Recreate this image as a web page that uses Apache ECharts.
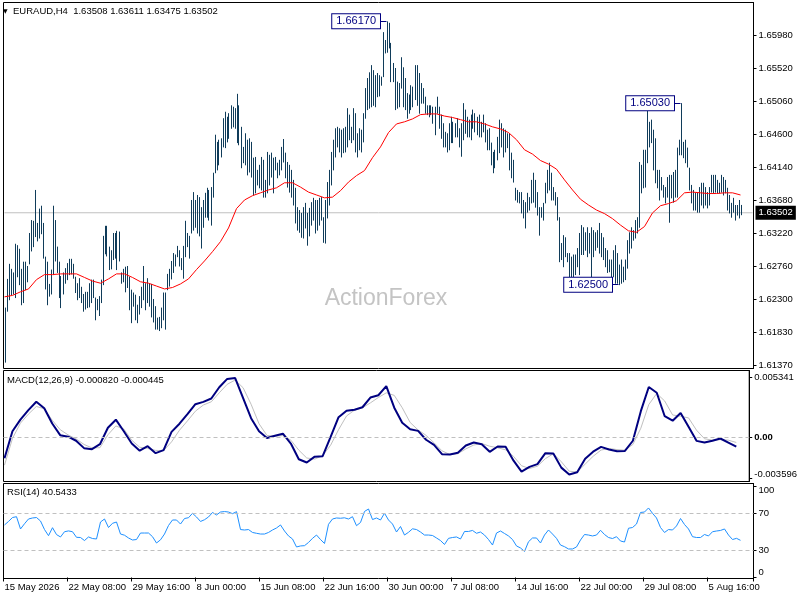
<!DOCTYPE html>
<html>
<head>
<meta charset="utf-8">
<title>EURAUD H4</title>
<script src="https://cdn.jsdelivr.net/npm/echarts@6/dist/echarts.min.js"></script>
<style>
html,body{margin:0;padding:0;background:#fff;}
#chart{width:800px;height:600px;}
</style>
</head>
<body>
<div id="chart"></div>
<script>
//K线最高价（每根H4）
var highs = [
1.6218,1.6258,1.6279,1.6272,1.6267,1.6307,1.6305,1.6300,1.6272,1.6282,
1.6282,1.6276,1.6322,1.6340,1.6339,1.6382,1.6336,1.6356,1.6360,1.6336,
1.6289,1.6282,1.6251,1.6271,1.6360,1.6340,1.6303,1.6282,1.6262,1.6267,
1.6273,1.6280,1.6286,1.6286,1.6279,1.6261,1.6252,1.6259,1.6247,1.6237,
1.6240,1.6240,1.6252,1.6257,1.6257,1.6232,1.6230,1.6234,1.6257,1.6318,
1.6332,1.6332,1.6303,1.6298,1.6322,1.6322,1.6325,1.6324,1.6267,1.6272,
1.6275,1.6276,1.6261,1.6243,1.6239,1.6236,1.6222,1.6234,1.6247,1.6276,
1.6252,1.6259,1.6252,1.6251,1.6230,1.6220,1.6204,1.6205,1.6218,1.6239,
1.6239,1.6265,1.6272,1.6283,1.6294,1.6292,1.6304,1.6298,1.6287,1.6304,
1.6339,1.6322,1.6318,
1.6368,1.6379,1.6368,1.6375,1.6372,1.6358,1.6368,1.6378,1.6385,1.6382,
1.6386,1.6406,1.6459,1.6449,1.6452,1.6454,1.6482,1.6491,1.6484,1.6489,
1.6500,1.6498,1.6496,1.6516,1.6500,1.6470,1.6442,1.6461,1.6452,1.6454,
1.6449,1.6427,1.6428,1.6410,1.6417,1.6428,1.6424,1.6396,1.6435,1.6431,
1.6434,1.6427,1.6428,1.6420,1.6424,1.6442,1.6453,1.6434,1.6421,1.6417,
1.6410,1.6396,1.6385,1.6358,1.6354,1.6350,1.6358,1.6364,1.6350,1.6357,
1.6365,1.6371,1.6368,1.6368,1.6371,1.6372,1.6344,1.6368,1.6393,1.6410,
1.6435,1.6452,1.6468,1.6470,1.6468,1.6466,1.6468,1.6470,1.6496,1.6487,
1.6470,1.6496,1.6489,1.6461,1.6468,1.6466,1.6489,1.6524,1.6538,1.6546,
1.6556,1.6549,1.6542,
1.6545,1.6542,1.6540,1.6602,1.6591,1.6617,1.6615,1.6587,1.6559,1.6552,
1.6533,1.6531,1.6567,1.6553,1.6538,1.6517,1.6515,1.6528,1.6526,1.6556,
1.6556,1.6545,1.6531,1.6524,1.6512,1.6500,1.6500,1.6500,1.6498,1.6498,
1.6512,1.6498,1.6487,1.6475,1.6463,1.6461,1.6475,1.6484,1.6477,1.6475,
1.6482,1.6468,1.6475,1.6503,1.6494,1.6484,1.6480,1.6487,1.6494,1.6489,
1.6484,1.6487,1.6477,1.6487,1.6475,1.6466,1.6468,1.6448,1.6435,1.6438,
1.6456,1.6480,1.6475,1.6468,1.6466,1.6461,1.6461,1.6434,1.6424,1.6385,
1.6382,1.6379,1.6379,1.6368,1.6365,1.6378,1.6372,1.6396,1.6406,1.6396,
1.6379,1.6358,1.6358,1.6364,1.6392,1.6410,1.6420,1.6406,1.6386,1.6379,
1.6372,1.6344,1.6308,
1.6319,1.6316,1.6294,1.6294,1.6289,1.6292,1.6292,1.6301,1.6322,1.6333,
1.6330,1.6323,1.6330,1.6322,1.6330,1.6326,1.6323,1.6326,1.6336,1.6322,
1.6316,1.6301,1.6298,1.6285,1.6285,1.6298,1.6305,1.6294,1.6278,1.6285,
1.6275,1.6285,1.6312,1.6323,1.6330,1.6326,1.6340,1.6344,1.6421,1.6417,
1.6438,1.6438,1.6494,1.6477,1.6480,1.6466,1.6454,1.6410,1.6410,1.6400,
1.6389,1.6386,1.6400,1.6403,1.6403,1.6407,1.6410,1.6441,1.6452,1.6503,
1.6449,1.6452,1.6441,1.6413,1.6389,1.6382,1.6378,1.6378,1.6386,1.6392,
1.6392,1.6386,1.6379,1.6386,1.6403,1.6403,1.6403,1.6396,1.6392,1.6403,
1.6400,1.6396,1.6385,1.6375,1.6364,1.6371,1.6361,1.6361,1.6368,1.63611
];
//K线最低价
var lows = [
1.6142,1.6213,1.6229,1.6236,1.6237,1.6232,1.6261,1.6250,1.6222,1.6225,
1.6243,1.6254,1.6279,1.6297,1.6303,1.6317,1.6311,1.6315,1.6321,1.6287,
1.6244,1.6222,1.6234,1.6237,1.6264,1.6283,1.6267,1.6232,1.6218,1.6237,
1.6252,1.6257,1.6264,1.6265,1.6259,1.6239,1.6229,1.6232,1.6225,1.6213,
1.6216,1.6218,1.6219,1.6225,1.6232,1.6201,1.6215,1.6207,1.6225,1.6250,
1.6293,1.6290,1.6271,1.6272,1.6285,1.6287,1.6271,1.6283,1.6252,1.6254,
1.6240,1.6246,1.6215,1.6197,1.6220,1.6201,1.6197,1.6209,1.6218,1.6229,
1.6215,1.6225,1.6220,1.6205,1.6198,1.6188,1.6188,1.6186,1.6190,1.6201,
1.6188,1.6243,1.6248,1.6258,1.6267,1.6276,1.6289,1.6276,1.6271,1.6259,
1.6289,1.6303,1.6287,
1.6322,1.6326,1.6330,1.6322,1.6318,1.6301,1.6330,1.6344,1.6344,1.6340,
1.6333,1.6372,1.6406,1.6410,1.6417,1.6428,1.6442,1.6441,1.6449,1.6454,
1.6468,1.6470,1.6468,1.6448,1.6445,1.6413,1.6420,1.6417,1.6403,1.6407,
1.6400,1.6375,1.6378,1.6389,1.6385,1.6382,1.6372,1.6372,1.6378,1.6389,
1.6400,1.6378,1.6410,1.6399,1.6403,1.6410,1.6421,1.6399,1.6386,1.6379,
1.6372,1.6361,1.6336,1.6326,1.6323,1.6316,1.6315,1.6329,1.6305,1.6318,
1.6333,1.6340,1.6322,1.6326,1.6333,1.6340,1.6309,1.6308,1.6343,1.6361,
1.6389,1.6410,1.6428,1.6442,1.6435,1.6428,1.6434,1.6435,1.6442,1.6452,
1.6448,1.6452,1.6435,1.6428,1.6438,1.6435,1.6449,1.6482,1.6494,1.6496,
1.6498,1.6500,1.6498,
1.6512,1.6513,1.6528,1.6540,1.6573,1.6574,1.6580,1.6533,1.6533,1.6494,
1.6496,1.6498,1.6524,1.6498,1.6494,1.6482,1.6489,1.6494,1.6498,1.6508,
1.6500,1.6489,1.6503,1.6503,1.6489,1.6487,1.6484,1.6487,1.6475,1.6459,
1.6489,1.6468,1.6454,1.6442,1.6442,1.6435,1.6438,1.6448,1.6448,1.6456,
1.6456,1.6442,1.6429,1.6452,1.6461,1.6456,1.6456,1.6452,1.6468,1.6463,
1.6459,1.6456,1.6456,1.6463,1.6449,1.6438,1.6438,1.6417,1.6406,1.6413,
1.6424,1.6434,1.6442,1.6428,1.6435,1.6441,1.6410,1.6399,1.6393,1.6368,
1.6365,1.6364,1.6350,1.6343,1.6329,1.6351,1.6354,1.6364,1.6365,1.6358,
1.6347,1.6319,1.6344,1.6340,1.6364,1.6378,1.6382,1.6368,1.6368,1.6361,
1.6340,1.6282,1.6285,
1.6275,1.6289,1.6282,1.6257,1.6261,1.6261,1.6264,1.6275,1.6264,1.6292,
1.6292,1.6298,1.6289,1.6294,1.6260,1.6289,1.6298,1.6302,1.6294,1.6289,
1.6285,1.6275,1.6267,1.6268,1.6252,1.6261,1.6252,1.6252,1.6250,1.6252,
1.6254,1.6257,1.6273,1.6294,1.6301,1.6312,1.6315,1.6322,1.6330,1.6378,
1.6385,1.6386,1.6420,1.6442,1.6448,1.6410,1.6392,1.6385,1.6368,1.6382,
1.6372,1.6364,1.6372,1.6337,1.6371,1.6365,1.6372,1.6372,1.6431,1.6431,
1.6427,1.6420,1.6414,1.6382,1.6364,1.6354,1.6354,1.6351,1.6351,1.6361,
1.6357,1.6361,1.6357,1.6361,1.6379,1.6378,1.6379,1.6378,1.6378,1.6379,
1.6375,1.6378,1.6354,1.6350,1.6344,1.6351,1.6340,1.6347,1.6343,1.63475
];
//均线（每4根取一个点）
var maValues = [
1.6233,1.6235,1.6240,1.6244,1.6257,1.6264,1.6264,1.6265,1.6265,1.6265,
1.6260,1.6255,1.6252,1.6258,1.6265,1.6265,1.6260,1.6254,1.6252,1.6248,
1.6244,1.6246,1.6251,1.6258,1.6271,1.6283,1.6296,1.6310,1.6329,1.6356,
1.6368,1.6374,1.6378,1.6382,1.6385,1.6392,1.6392,1.6386,1.6379,1.6375,
1.6371,1.6372,1.6381,1.6393,1.6402,1.6409,1.6427,1.6442,1.6462,1.6474,
1.6477,1.6481,1.6487,1.6488,1.6488,1.6485,1.6483,1.6480,1.6477,1.6477,
1.6474,1.6470,1.6467,1.6462,1.6452,1.6438,1.6432,1.6423,1.6418,1.6411,
1.6396,1.6382,1.6369,1.6361,1.6354,1.6349,1.6342,1.6333,1.6325,1.6323,
1.6331,1.6350,1.6360,1.6363,1.6367,1.6378,1.6379,1.6378,1.6377,1.6377,
1.6378,1.6378,1.6375
];
//MACD主线（每4根）
var macdValues = [
-0.00185,0.00056,0.00159,0.00244,0.00319,0.00261,0.00125,0.00021,0.00007,-0.00029,
-0.00095,-0.00104,-0.00060,0.00087,0.00159,0.00056,-0.00054,-0.00118,-0.00078,-0.00140,
-0.00113,0.00050,0.00123,0.00208,0.00297,0.00318,0.00348,0.00449,0.00523,0.00531,
0.00351,0.00172,0.00056,-0.00004,0.00016,0.00034,-0.00054,-0.00194,-0.00223,-0.00171,
-0.00167,0.00005,0.00181,0.00239,0.00248,0.00270,0.00357,0.00377,0.00458,0.00266,
0.00132,0.00074,0.00059,-0.00020,-0.00066,-0.00149,-0.00152,-0.00137,-0.00071,-0.00045,
-0.00060,-0.00128,-0.00080,-0.00082,-0.00207,-0.00305,-0.00262,-0.00238,-0.00140,-0.00143,
-0.00269,-0.00330,-0.00310,-0.00189,-0.00127,-0.00084,-0.00107,-0.00122,-0.00120,-0.00029,
0.00235,0.00451,0.00400,0.00190,0.00150,0.00219,0.00095,-0.00030,-0.00045,-0.00029,
-0.00009,-0.00045,-0.00082
];
//信号线（每4根）
var signalValues = [
-0.00247,-0.00009,0.00128,0.00208,0.00277,0.00257,0.00154,0.00070,0.00023,-0.00013,
-0.00062,-0.00093,-0.00091,0.00024,0.00103,0.00076,-0.00024,-0.00087,-0.00098,-0.00115,
-0.00118,-0.00039,0.00065,0.00148,0.00235,0.00290,0.00319,0.00399,0.00475,0.00513,
0.00444,0.00297,0.00123,0.00018,0.00012,0.00017,-0.00024,-0.00113,-0.00183,-0.00193,
-0.00161,-0.00069,0.00070,0.00192,0.00244,0.00265,0.00309,0.00357,0.00399,0.00376,
0.00266,0.00134,0.00067,0.00019,-0.00047,-0.00119,-0.00152,-0.00145,-0.00102,-0.00067,
-0.00054,-0.00078,-0.00092,-0.00110,-0.00169,-0.00252,-0.00277,-0.00256,-0.00189,-0.00145,
-0.00216,-0.00301,-0.00308,-0.00238,-0.00168,-0.00112,-0.00098,-0.00108,-0.00114,-0.00062,
0.00083,0.00294,0.00393,0.00326,0.00201,0.00190,0.00175,0.00065,-0.00011,-0.00024,
-0.00019,-0.00024,-0.000445
];
//RSI(14)（每2根）
var rsiValues = [
57.3,61.1,65.4,66.3,52.9,58.6,63.8,64.9,65.4,61.6,
52.3,45.6,54.3,46.8,44.2,49.9,50.8,49.9,43.8,43.6,
40.3,44.2,42.5,42.0,60.5,63.8,54.5,59.1,60.5,47.4,
46.1,43.1,40.9,41.4,48.5,48.5,48.5,44.5,37.6,41.1,
47.4,56.7,62.7,62.7,58.3,64.3,65.2,70.0,66.0,61.1,
63.0,66.0,70.9,68.2,71.4,71.9,71.4,69.6,71.8,52.3,
51.8,52.3,49.1,48.2,47.4,47.4,49.1,51.8,54.0,57.3,
50.7,45.3,42.0,33.3,34.4,34.7,38.2,42.7,46.3,41.4,
37.1,58.0,63.8,64.9,64.6,65.1,63.8,66.3,56.5,60.0,
72.0,74.7,63.2,64.9,62.7,70.1,62.7,58.3,49.6,55.6,
46.3,49.3,53.1,52.3,49.6,46.3,46.3,45.8,43.1,40.3,
36.0,42.7,43.6,44.2,42.0,50.2,50.2,51.3,48.2,49.6,
46.3,41.4,35.4,48.5,50.7,48.0,45.3,41.4,34.4,32.2,
28.4,39.0,43.1,43.1,37.6,46.3,51.8,47.4,42.7,35.4,
33.6,31.1,31.1,33.3,40.9,46.9,46.3,45.3,46.3,51.5,
46.9,43.6,42.5,44.5,39.8,38.7,53.7,54.5,58.3,70.9,
71.4,75.8,70.0,64.9,54.5,49.1,52.3,51.8,56.2,64.3,
57.8,52.9,44.5,43.6,43.6,46.9,45.3,49.9,50.7,51.3,
52.9,46.3,41.4,42.7,40.5433
];
var lastPrice = 1.63502;
var priceTicks = [1.6137,1.6183,1.6230,1.6276,1.6322,1.6368,1.6414,1.6460,1.6506,1.6552,1.6598];
var macdTicks = [0.005341,0,-0.003596];
var rsiTicks = [100,70,30,0];
var rsiLevels = [70,30];
var timeLabels = ['15 May 2026','22 May 08:00','29 May 16:00','8 Jun 00:00','15 Jun 08:00','22 Jun 16:00',
                  '30 Jun 00:00','7 Jul 08:00','14 Jul 16:00','22 Jul 00:00','29 Jul 08:00','5 Aug 16:00'];
//高低点标注
var peakBars = [191,338,307];
var peakPrices = [1.66170,1.65030,1.62500];

var slotCount = 375;
var font = 'Liberation Sans';
var barColor = '#103c5a';

var categories = [];
for (var i = 0; i < slotCount; i++) {
    categories.push(String(i));
}
var barData = highs.map(function (h, i) { return [i, h, lows[i]]; });
var maData = maValues.map(function (v, i) { return [i * 4, v]; });
var macdData = macdValues.map(function (v, i) { return [i * 4, v]; });
var signalData = signalValues.map(function (v, i) { return [i * 4, v]; });
var rsiData = rsiValues.map(function (v, i) { return [i * 2, v]; });

//画竖线K线（HL）
function renderBar(params, api) {
    var top = api.coord([api.value(0), api.value(1)]);
    var bottom = api.coord([api.value(0), api.value(2)]);
    var x = Math.round(top[0]) + 0.5;
    return {
        type: 'line',
        shape: { x1: x, y1: top[1], x2: x, y2: bottom[1] + 0.5 },
        style: { stroke: barColor, lineWidth: 1 }
    };
}

function xAxisFor(idx, withLabels) {
    var ax = {
        type: 'category', gridIndex: idx, data: categories, boundaryGap: true,
        axisLine: { show: false }, axisTick: { show: false }, axisLabel: { show: false },
        splitLine: { show: false }
    };
    if (withLabels) {
        ax.axisTick = {
            show: true, length: 4, lineStyle: { color: '#000' },
            interval: function (index) { return index % 32 === 0; }
        };
        ax.axisLabel = {
            show: true, align: 'left', margin: 4, color: '#000', fontFamily: font, fontSize: 9.5,
            interval: function (index) { return index % 32 === 0; },
            formatter: function (value) { return timeLabels[Number(value) / 32] || ''; }
        };
    }
    return ax;
}

var labelStyle = { color: '#000', fontFamily: font, fontSize: 9.5, margin: 5 };

var option = {
    animation: false,
    backgroundColor: '#fff',
    textStyle: { fontFamily: font },
    grid: [
        { left: 3.5, top: 2.5, width: 750, height: 366, show: true, borderColor: '#000', borderWidth: 1 },
        { left: 3.5, top: 370.5, width: 750, height: 111, show: true, borderColor: '#000', borderWidth: 1 },
        { left: 3.5, top: 483.5, width: 750, height: 95, show: true, borderColor: '#000', borderWidth: 1 }
    ],
    xAxis: [xAxisFor(0, false), xAxisFor(1, false), xAxisFor(2, true)],
    yAxis: [
        {
            type: 'value', gridIndex: 0, position: 'right', min: 1.61331, max: 1.66433, scale: true,
            axisLine: { show: true, lineStyle: { color: '#000' } },
            axisTick: { show: true, length: 3, customValues: priceTicks, lineStyle: { color: '#000' } },
            axisLabel: Object.assign({}, labelStyle, {
                customValues: priceTicks,
                formatter: function (v) { return v.toFixed(5); }
            }),
            splitLine: { show: false }
        },
        {
            type: 'value', gridIndex: 1, position: 'right', min: -0.003929, max: 0.005982,
            axisLine: { show: true, lineStyle: { color: '#000' } },
            axisTick: { show: true, length: 3, customValues: macdTicks, lineStyle: { color: '#000' } },
            axisLabel: Object.assign({}, labelStyle, {
                customValues: macdTicks,
                formatter: function (v) {
                    if (Math.abs(v) < 1e-9) return '{z|0.00}';
                    if (v < 0) return '{dn|' + v.toFixed(6) + '}';
                    return v.toFixed(6);
                },
                rich: {
                    z: { fontWeight: 'bold', fontFamily: font, fontSize: 9.5, color: '#000' },
                    dn: { padding: [0, 0, 7, 0], fontFamily: font, fontSize: 9.5, color: '#000' }
                }
            }),
            splitLine: { show: false }
        },
        {
            type: 'value', gridIndex: 2, position: 'right', min: -1.1, max: 102.5,
            axisLine: { show: true, lineStyle: { color: '#000' } },
            axisTick: { show: true, length: 3, customValues: rsiTicks, lineStyle: { color: '#000' } },
            axisLabel: Object.assign({}, labelStyle, {
                customValues: rsiTicks,
                formatter: function (v) {
                    if (v === 100) return '{up|100}';
                    if (v === 0) return '{dn|0}';
                    return String(v);
                },
                rich: {
                    up: { padding: [9, 0, 0, 0], fontFamily: font, fontSize: 9.5, color: '#000' },
                    dn: { padding: [0, 0, 11, 0], fontFamily: font, fontSize: 9.5, color: '#000' }
                }
            }),
            splitLine: { show: false }
        }
    ],
    graphic: [
        { type: 'text', x: 3, y: 11, style: { text: '\u25BC', fill: '#000', font: '6px "DejaVu Sans"', verticalAlign: 'middle' } },
        { type: 'text', x: 13, y: 11, style: { text: 'EURAUD,H4  1.63508 1.63611 1.63475 1.63502', fill: '#000', font: '9.5px "' + font + '"', verticalAlign: 'middle' } },
        { type: 'text', x: 7, y: 380, style: { text: 'MACD(12,26,9) -0.000820 -0.000445', fill: '#000', font: '9.5px "' + font + '"', verticalAlign: 'middle' } },
        { type: 'text', x: 7, y: 492, style: { text: 'RSI(14) 40.5433', fill: '#000', font: '9.5px "' + font + '"', verticalAlign: 'middle' } },
        { type: 'text', x: 386, y: 299, z: 0, style: { text: 'ActionForex', fill: '#c4c4c4', font: '23px "' + font + '"', align: 'center', verticalAlign: 'middle' } }
    ],
    series: [
        {
            name: 'price', type: 'line', xAxisIndex: 0, yAxisIndex: 0, z: 1, silent: true,
            data: [[0, lastPrice], [slotCount - 1, lastPrice]],
            symbol: 'none', lineStyle: { color: '#c0c0c0', width: 1 },
            endLabel: {
                show: true, distance: 3, formatter: lastPrice.toFixed(5),
                backgroundColor: '#000', color: '#fff', padding: [2, 3, 2, 3],
                fontFamily: font, fontSize: 9.5
            }
        },
        {
            name: 'bars', type: 'custom', xAxisIndex: 0, yAxisIndex: 0, z: 2, silent: true,
            renderItem: renderBar, data: barData, encode: { x: 0, y: [1, 2] }
        },
        {
            name: 'MA', type: 'line', xAxisIndex: 0, yAxisIndex: 0, z: 3, silent: true,
            data: maData, symbol: 'none', lineStyle: { color: '#ff0000', width: 1 },
            markLine: {
                silent: true, symbol: ['none', 'none'], label: { show: false },
                lineStyle: { color: '#000080', width: 1, type: 'solid' },
                data: peakBars.map(function (b, i) {
                    return [{ coord: [b - 3, peakPrices[i]] }, { coord: [b, peakPrices[i]] }];
                })
            },
            markPoint: {
                silent: true, symbol: 'rect', symbolSize: 1, itemStyle: { color: 'rgba(0,0,0,0)' },
                label: {
                    show: true, position: 'left', distance: 6,
                    formatter: function (p) { return p.data.value; },
                    color: '#000080', backgroundColor: '#fff', borderColor: '#000080', borderWidth: 1,
                    padding: [2, 4, 1, 4], fontFamily: font, fontSize: 11
                },
                data: peakBars.map(function (b, i) {
                    return { coord: [b, peakPrices[i]], value: peakPrices[i].toFixed(5) };
                })
            }
        },
        {
            name: 'Signal', type: 'line', xAxisIndex: 1, yAxisIndex: 1, silent: true,
            data: signalData, symbol: 'none', lineStyle: { color: '#c0c0c0', width: 1 },
            markLine: {
                silent: true, symbol: ['none', 'none'], label: { show: false },
                lineStyle: { color: '#c0c0c0', width: 1, type: [4, 3] },
                data: [{ yAxis: 0 }]
            }
        },
        {
            name: 'MACD', type: 'line', xAxisIndex: 1, yAxisIndex: 1, silent: true,
            data: macdData, symbol: 'none', lineStyle: { color: '#000080', width: 2 }
        },
        {
            name: 'RSI', type: 'line', xAxisIndex: 2, yAxisIndex: 2, silent: true,
            data: rsiData, symbol: 'none', lineStyle: { color: '#1e90ff', width: 1 },
            markLine: {
                silent: true, symbol: ['none', 'none'], label: { show: false },
                lineStyle: { color: '#c0c0c0', width: 1, type: [4, 3] },
                data: rsiLevels.map(function (v) { return { yAxis: v }; })
            }
        }
    ]
};

var myChart = echarts.init(document.getElementById('chart'));
myChart.setOption(option);
</script>
</body>
</html>
